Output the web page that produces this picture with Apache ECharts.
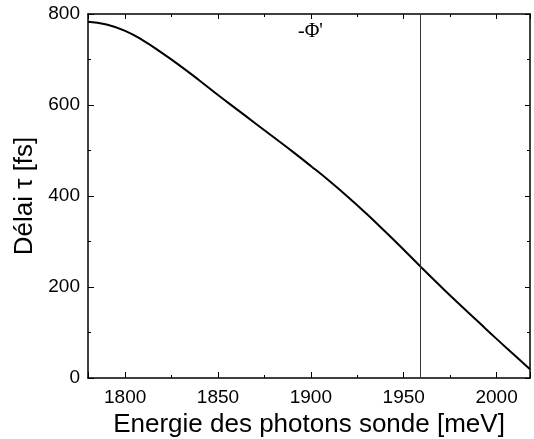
<!DOCTYPE html>
<html>
<head>
<meta charset="utf-8">
<script src="https://cdn.jsdelivr.net/npm/echarts@6/dist/echarts.min.js"></script>
<style>
html,body{margin:0;padding:0;background:#fff;}
#c{width:534px;height:439px;}
</style>
</head>
<body>
<div id="c"></div>
<script>
// Data
const energies = [1780, 1790, 1800, 1810, 1820, 1830, 1840, 1850, 1860, 1870, 1880, 1890, 1900, 1910, 1920, 1930, 1940, 1950, 1960, 1970, 1980, 1990, 2000, 2010, 2018];
const delays   = [783, 777, 763, 741, 714, 685, 654, 622, 591, 560, 529, 498, 466, 433, 398, 361, 322, 282, 241, 201, 162, 124, 86, 49, 19];
const markerEnergy = 1959;
const markerLabel = "-\u03A6'";
const xTitle = "Energie des photons sonde [meV]";
const yTitle = "Délai \u03C4 [fs]";
const xRange = [1780, 2018];
const yRange = [0, 800];

const chart = echarts.init(document.getElementById('c'), null, {renderer: 'canvas'});
const font = 'Liberation Sans, Arial, Helvetica, sans-serif';
const axisLineStyle = {color: '#000', width: 1.5};

const option = {
  animation: false,
  backgroundColor: '#fff',
  grid: {left: 88, right: 4, top: 14, bottom: 61, containLabel: false, outerBoundsMode: 'none'},
  xAxis: [
    {
      type: 'value', min: xRange[0], max: xRange[1], splitNumber: 5, position: 'bottom',
      name: xTitle, nameLocation: 'middle', nameGap: 31,
      nameTextStyle: {fontFamily: font, fontSize: 26, color: '#000'},
      axisLine: {show: true, onZero: false, lineStyle: axisLineStyle},
      axisTick: {show: true, inside: true, length: 6, lineStyle: {color: '#000', width: 1}},
      minorTick: {show: true, splitNumber: 2, length: 3, lineStyle: {color: '#000', width: 1}},
      axisLabel: {show: true, showMinLabel: false, showMaxLabel: false, margin: 10, fontFamily: font, fontSize: 19, color: '#000',
                  formatter: v => String(v)},
      splitLine: {show: false}
    },
    {
      type: 'value', min: xRange[0], max: xRange[1], splitNumber: 5, position: 'top',
      axisLine: {show: true, onZero: false, lineStyle: axisLineStyle},
      axisTick: {show: true, inside: true, length: 5, lineStyle: {color: '#000', width: 1}},
      minorTick: {show: true, splitNumber: 2, length: 3, lineStyle: {color: '#000', width: 1}},
      axisLabel: {show: false},
      splitLine: {show: false}
    }
  ],
  yAxis: [
    {
      type: 'value', min: yRange[0], max: yRange[1], interval: 200, position: 'left',
      name: yTitle, nameLocation: 'middle', nameGap: 50, nameRotate: 90,
      nameTextStyle: {fontFamily: font, fontSize: 26, color: '#000'},
      axisLine: {show: true, onZero: false, lineStyle: axisLineStyle},
      axisTick: {show: true, inside: true, length: 6, lineStyle: {color: '#000', width: 1}},
      minorTick: {show: true, splitNumber: 2, length: 3, lineStyle: {color: '#000', width: 1}},
      axisLabel: {show: true, margin: 8, fontFamily: font, fontSize: 19, color: '#000'},
      splitLine: {show: false}
    },
    {
      type: 'value', min: yRange[0], max: yRange[1], interval: 200, position: 'right',
      axisLine: {show: true, onZero: false, lineStyle: axisLineStyle},
      axisTick: {show: true, inside: true, length: 5, lineStyle: {color: '#000', width: 1}},
      minorTick: {show: true, splitNumber: 2, length: 3, lineStyle: {color: '#000', width: 1}},
      axisLabel: {show: false},
      splitLine: {show: false}
    }
  ],
  series: [
    {
      type: 'line',
      data: energies.map((e, i) => [e, delays[i]]),
      smooth: true,
      showSymbol: false,
      symbol: 'none',
      lineStyle: {color: '#000', width: 2},
      markLine: {
        silent: true,
        symbol: ['none', 'none'],
        label: {show: false},
        lineStyle: {color: '#333', width: 1, type: 'solid'},
        data: [{xAxis: markerEnergy}]
      }
    }
  ],
  graphic: [
    {
      type: 'text', left: 298, top: 22,
      style: {text: markerLabel, font: '20px "Liberation Serif", "DejaVu Serif", serif', fill: '#000'}
    }
  ]
};
chart.setOption(option);
</script>
</body>
</html>
